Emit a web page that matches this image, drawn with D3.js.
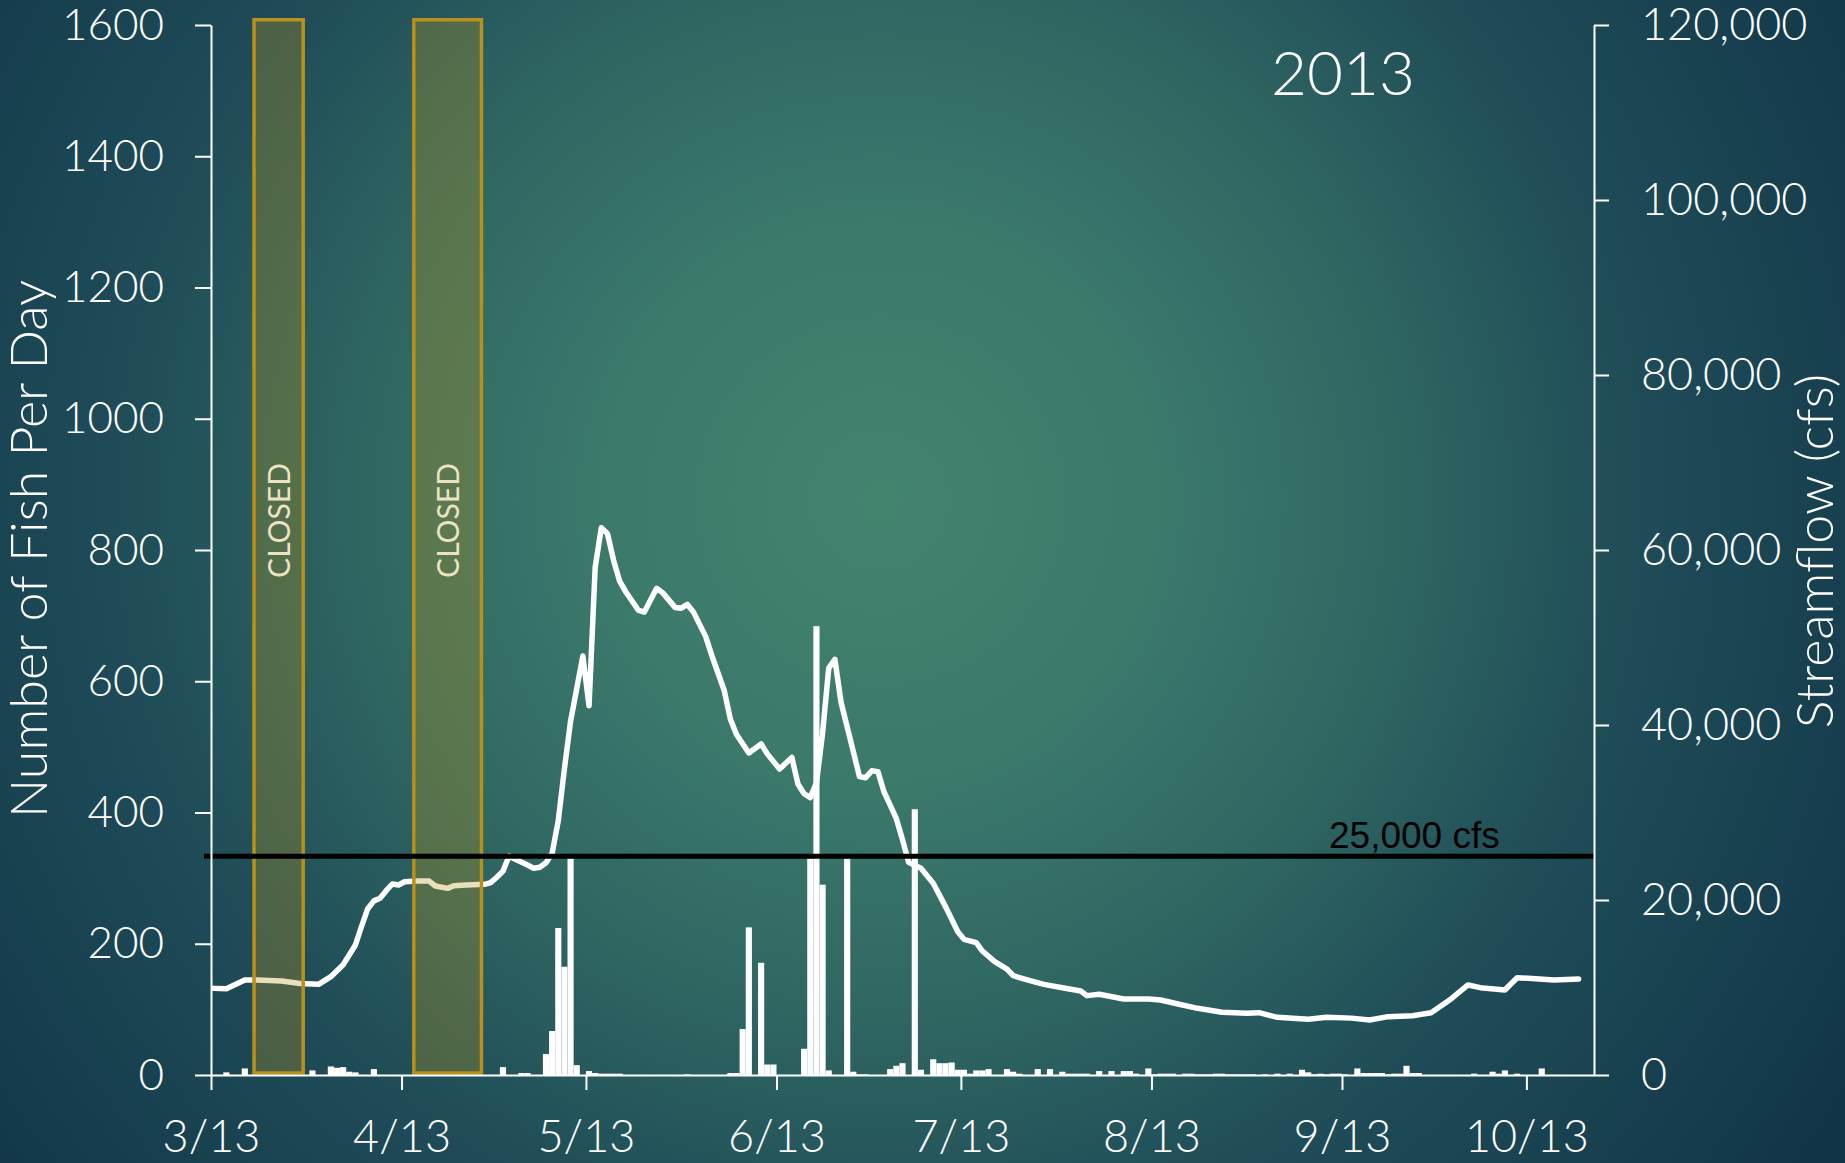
<!DOCTYPE html>
<html><head><meta charset="utf-8">
<script src="https://cdn.jsdelivr.net/npm/d3@7/dist/d3.min.js"></script>
<style>
html,body{margin:0;padding:0;background:#123547;}
svg{display:block;}
</style></head>
<body>
<svg id="chart" width="1845" height="1163"></svg>
<script>
// ---------------- data ----------------
const year = 2013;
// streamflow, cfs (right axis)
const streamflow = [
["3/13",9900],["3/15",9860],["3/18",10860],["3/20",10860],["3/24",10740],["3/27",10450],["3/30",10360],
["4/1",11240],["4/3",12600],["4/5",14860],["4/6",17000],["4/7",19000],["4/8",19900],["4/9",20200],["4/10",21060],
["4/11",21830],["4/12",21710],["4/13",22090],["4/15",22170],["4/17",22170],["4/18",21600],["4/20",21330],["4/21",21640],
["4/23",21710],["4/26",21790],["4/27",21980],["4/28",22600],["4/29",23300],["4/30",25030],["5/1",24650],["5/3",24000],
["5/4",23620],["5/5",23740],["5/6",24260],["5/7",25340],["5/8",29070],["5/9",35000],["5/10",40440],["5/12",47890],
["5/13",42190],["5/14",58000],["5/15",62540],["5/16",61870],["5/17",58810],["5/18",56410],["5/19",55200],["5/21",53140],
["5/22",52910],["5/24",55620],["5/25",55100],["5/27",53440],["5/28",53350],["5/29",53780],["5/30",52900],["6/1",50070],
["6/2",47890],["6/4",43940],["6/5",40660],["6/6",38910],["6/8",36810],["6/10",37830],["6/11",36700],["6/13",34970],
["6/15",36290],["6/16",33230],["6/17",32140],["6/18",31700],["6/19",33400],["6/20",39100],["6/21",46500],["6/22",47500],
["6/23",42600],["6/25",36950],["6/26",34100],["6/27",33980],["6/28",34760],["6/29",34670],["6/30",32350],["7/2",29290],
["7/3",26890],["7/4",24300],["7/6",23620],["7/8",21910],["7/10",19240],["7/12",16380],["7/13",15510],["7/15",15120],
["7/16",14170],["7/18",12950],["7/20",12110],["7/21",11350],["7/23",10940],["7/26",10360],["7/29",9980],["8/1",9600],
["8/2",9070],["8/4",9220],["8/8",8690],["8/12",8690],["8/14",8570],["8/17",8080],["8/20",7620],["8/24",7170],
["8/28",7050],["8/30",7120],["9/2",6590],["9/7",6360],["9/10",6590],["9/14",6500],["9/17",6290],["9/20",6670],
["9/24",6780],["9/27",7120],["9/30",8570],["10/3",10290],["10/5",9980],["10/9",9710],["10/11",11120],["10/14",11000],
["10/17",10860],["10/21",10970]
];
// number of fish per day (left axis)
const fishPerDay = [
["3/15",4],["3/18",10],["3/29",7],["4/1",13],["4/2",11],["4/3",12],["4/4",5],["4/5",4],["4/8",9],
["4/29",12],["5/2",3],["5/3",3],["5/6",32],["5/7",67],["5/8",224],["5/9",165],["5/10",330],["5/11",15],
["5/13",6],["5/14",3],["5/15",2],["5/16",2],["5/17",2],["5/18",2],["5/29",1],
["6/5",3],["6/6",3],["6/7",70],["6/8",225],["6/10",171],["6/11",16],["6/12",16],
["6/17",40],["6/18",330],["6/19",684],["6/20",290],["6/21",7],["6/24",330],["6/25",5],["6/26",1],["6/27",1],
["7/1",9],["7/2",14],["7/3",18],["7/5",405],["7/6",8],["7/8",24],["7/9",18],["7/10",18],["7/11",19],
["7/12",8],["7/13",8],["7/14",2],["7/15",7],["7/16",7],["7/17",9],["7/20",9],["7/21",5],["7/22",2],
["7/25",9],["7/27",9],["7/29",5],["7/30",2],["7/31",2],["8/1",2],["8/2",2],["8/4",6],["8/6",6],["8/8",6],["8/9",6],
["8/10",2],["8/12",10],["8/13",1],["8/14",2],["8/15",2],["8/16",2],["8/18",2],["8/19",2],["8/20",1],["8/21",1],
["8/22",1],["8/23",2],["8/24",2],["8/25",1],["8/26",1],["8/27",1],["8/28",1],["8/29",1],["8/31",1],["9/2",2],["9/4",2],
["9/6",8],["9/7",4],["9/8",1],["9/9",2],["9/10",1],["9/11",2],["9/12",2],["9/13",1],["9/15",10],["9/16",3],["9/17",3],
["9/18",3],["9/19",3],["9/20",1],["9/21",2],["9/22",2],["9/23",14],["9/24",3],["9/25",3],
["10/4",2],["10/7",5],["10/8",2],["10/9",7],["10/11",2],["10/15",10]
];
// fishery closures
const closures = [["3/20","3/28"],["4/15","4/26"]];
const closedLabel = "CLOSED";
// axes
const xDomain = ["3/13","10/24"];
const xTickLabels = ["3/13","4/13","5/13","6/13","7/13","8/13","9/13","10/13"];
const fishTicks = [0,200,400,600,800,1000,1200,1400,1600];
const flowTicks = [0,20000,40000,60000,80000,100000,120000];
const thresholdCfs = 25000;
const thresholdLabel = "25,000 cfs";
const title = "2013";
const leftTitle = "Number of Fish Per Day";
const rightTitle = "Streamflow (cfs)";

// ---------------- drawing ----------------
const parse = s => d3.utcParse("%m/%d/%Y")(s + "/" + year);
const W = 1845, H = 1163;
const svg = d3.select("#chart");
const FONT = "Lato, 'Open Sans', sans-serif";

// background
const defs = svg.append("defs");
const rg = defs.append("radialGradient").attr("id","bg")
  .attr("gradientUnits","userSpaceOnUse").attr("cx",880).attr("cy",500).attr("r",1150);
[[0,"#43846f"],[0.25,"#3b796b"],[0.45,"#2f6662"],[0.65,"#1f4d58"],[0.85,"#173f4f"],[1,"#113446"]]
  .forEach(([o,c]) => rg.append("stop").attr("offset",o).attr("stop-color",c));
svg.append("rect").attr("width",W).attr("height",H).attr("fill","url(#bg)");

const x = d3.scaleUtc().domain(xDomain.map(parse)).range([211, 1594]);
const yL = d3.scaleLinear().domain([0,1600]).range([1075, 25]);
const yR = d3.scaleLinear().domain([0,120000]).range([1075, 25]);
const mid = d => d3.utcHour.offset(d, 12);

// bars
svg.append("g").selectAll("rect").data(fishPerDay).join("rect")
  .attr("x", d => x(parse(d[0])))
  .attr("width", d => x(d3.utcDay.offset(parse(d[0]),1)) - x(parse(d[0])))
  .attr("y", d => yL(d[1]))
  .attr("height", d => yL(0) - yL(d[1]))
  .attr("fill", "#ffffff");

// streamflow line
svg.append("path").datum(streamflow)
  .attr("d", d3.line().x(d => x(mid(parse(d[0])))).y(d => yR(d[1])))
  .attr("fill","none").attr("stroke","#ffffff").attr("stroke-width",5.5)
  .attr("stroke-linejoin","round").attr("stroke-linecap","round");

// closures
const cg = svg.append("g");
closures.forEach(c => {
  const x0 = x(parse(c[0])), x1 = x(parse(c[1]));
  cg.append("rect").attr("x", x0).attr("width", x1 - x0)
    .attr("y", yL(1608)).attr("height", yL(3) - yL(1608))
    .attr("fill", "#b8961e").attr("fill-opacity", 0.3)
    .attr("stroke", "#b8901a").attr("stroke-width", 3.5);
  cg.append("text")
    .attr("transform", `translate(${(x0+x1)/2 + 1},${yL(845)}) rotate(-90)`)
    .attr("text-anchor","middle").attr("dy","0.36em")
    .attr("font-family", FONT).attr("font-size", 30)
    .attr("fill", "#ece3c6").text(closedLabel);
});

// threshold line
svg.append("line")
  .attr("x1", x.range()[0] - 7).attr("x2", x.range()[1])
  .attr("y1", yR(thresholdCfs)).attr("y2", yR(thresholdCfs))
  .attr("stroke", "#000").attr("stroke-width", 5);
svg.append("text").attr("x", 1329).attr("y", yR(thresholdCfs) - 8)
  .attr("font-family", "'Liberation Sans', Arial, sans-serif").attr("font-size", 37)
  .attr("fill", "#000").text(thresholdLabel);

// axes
function styleAxis(g, size) {
  g.attr("font-family", FONT).attr("font-size", size);
  g.selectAll("path,line").attr("stroke", "#ffffff").attr("stroke-width", 2);
  g.selectAll("text").attr("fill", "#ffffff").attr("font-weight", 300);
}
const gl = svg.append("g").attr("transform", `translate(${x.range()[0]},0)`)
  .call(d3.axisLeft(yL).tickValues(fishTicks).tickSize(16).tickSizeOuter(0).tickPadding(31).tickFormat(d3.format("d")));
styleAxis(gl, 44);
const gr = svg.append("g").attr("transform", `translate(${x.range()[1]},0)`)
  .call(d3.axisRight(yR).tickValues(flowTicks).tickSize(15).tickSizeOuter(0).tickPadding(32).tickFormat(d3.format(",")));
styleAxis(gr, 45);
const gx = svg.append("g").attr("transform", `translate(0,${yL(0)})`)
  .call(d3.axisBottom(x).tickValues(xTickLabels.map(parse)).tickSize(15).tickSizeOuter(0).tickPadding(30)
    .tickFormat(d3.utcFormat("%-m/%-d")));
styleAxis(gx, 45);

// titles
svg.append("text").attr("x", 1271).attr("y", 95)
  .attr("font-family", FONT).attr("font-weight", 300).attr("font-size", 62)
  .attr("fill", "#ffffff").text(title);
svg.append("text").attr("transform", "translate(28,549) rotate(-90)")
  .attr("text-anchor","middle").attr("dy","0.36em")
  .attr("font-family", FONT).attr("font-weight", 300).attr("font-size", 52)
  .attr("fill", "#ffffff").text(leftTitle);
svg.append("text").attr("transform", "translate(1814,551) rotate(-90)")
  .attr("text-anchor","middle").attr("dy","0.36em")
  .attr("font-family", FONT).attr("font-weight", 300).attr("font-size", 52)
  .attr("fill", "#ffffff").text(rightTitle);
</script>
</body></html>
